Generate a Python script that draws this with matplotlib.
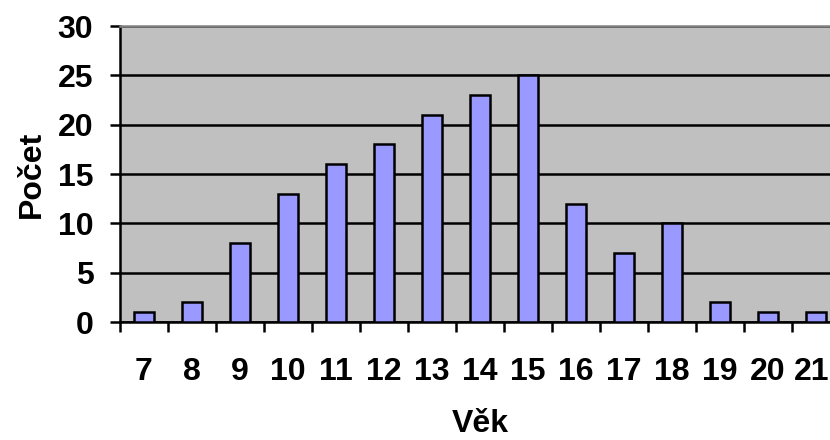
import matplotlib
matplotlib.use("Agg")
import matplotlib.pyplot as plt
import matplotlib.transforms as mtransforms
import numpy as np

ages = ["7", "8", "9", "10", "11", "12", "13", "14", "15", "16", "17", "18", "19", "20", "21"]
counts = [1, 2, 8, 13, 16, 18, 21, 23, 25, 12, 7, 10, 2, 1, 1]
y_ticks = [0, 5, 10, 15, 20, 25, 30]

plt.rcParams['font.family'] = ['Liberation Sans', 'DejaVu Sans']
plt.rcParams['font.weight'] = 'bold'
FS = 23

W, H = 830, 440
fig = plt.figure(figsize=(W / 100, H / 100), dpi=100)
# plot area runs a bit past the right edge, like the original
ax = fig.add_axes([120 / W, (H - 322) / H, 720 / W, 296 / H])
ax.set_facecolor('#C0C0C0')

x = np.arange(len(ages))
ax.bar(x, counts, width=0.42, color='#9999FF', edgecolor='black', linewidth=1.8, zorder=3)

ax.set_xlim(-0.5, len(ages) - 0.5)
ax.set_ylim(0, 30)
ax.set_yticks(y_ticks)
ax.set_yticklabels([str(v) for v in y_ticks], fontsize=FS, fontweight='bold')
ax.yaxis.grid(True, color='black', linewidth=1.8, zorder=1)
ax.set_axisbelow(True)

ax.set_xticks(x)
ax.set_xticklabels(ages, fontsize=FS, fontweight='bold')
ax.set_xticks(np.arange(-0.5, len(ages)), minor=True)
ax.tick_params(axis='x', which='major', length=0, pad=25)
ax.tick_params(axis='x', which='minor', length=7.2, width=1.8, direction='out')
ax.tick_params(axis='y', length=7.2, width=1.8, direction='out', pad=12)

# nudge the last label so it stays inside the picture
last = ax.get_xticklabels()[-1]
last.set_transform(last.get_transform() + mtransforms.ScaledTranslation(-0.04, 0, fig.dpi_scale_trans))

for side in ['left', 'bottom']:
    ax.spines[side].set_color('black')
    ax.spines[side].set_linewidth(1.8)
ax.spines['top'].set_color('#808080')
ax.spines['top'].set_linewidth(1.8)
ax.spines['right'].set_visible(False)

fig.text(480 / W, 1 - 424 / H, "Věk", ha='center', va='center', fontsize=FS, fontweight='bold')
fig.text(32 / W, 1 - 174 / H, "Počet", ha='center', va='center', rotation=90, fontsize=FS, fontweight='bold')

fig.savefig("out.png", dpi=100)
